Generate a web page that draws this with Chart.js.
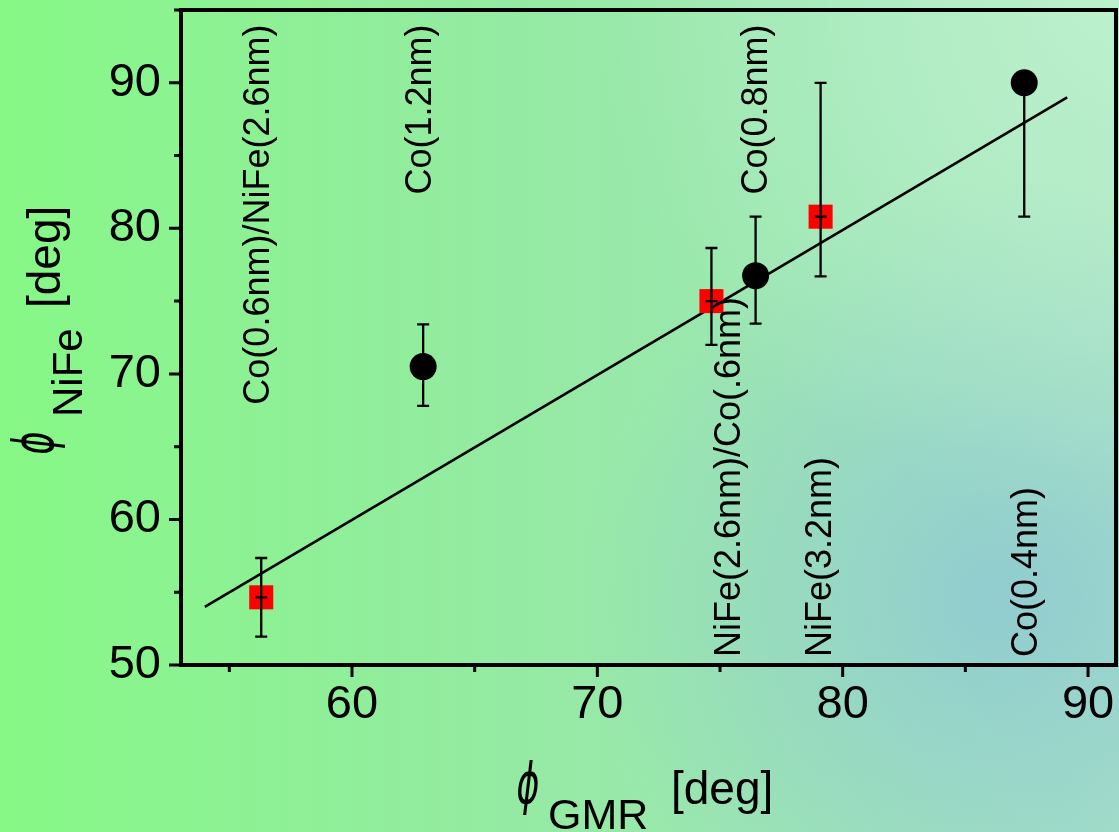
<!DOCTYPE html>
<html>
<head>
<meta charset="utf-8">
<script src="https://cdn.jsdelivr.net/npm/chart.js@4/dist/chart.umd.min.js"></script>
<style>
html,body{margin:0;padding:0;background:#8cf08c;}
#wrap{width:1119px;height:832px;}
</style>
</head>
<body>
<div id="wrap"><canvas id="c" width="1119" height="832"></canvas></div>
<script>
// ---- data ----
const coX = [62.9, 76.45, 87.4];
const coY = [70.5, 76.75, 90.0];
const coErrLow = [67.8, 73.45, 80.8];
const coErrHigh = [73.4, 80.8, 90.0];

const nifeX = [56.3, 74.65, 79.1];
const nifeY = [54.65, 75.0, 80.8];
const nifeErrLow = [51.95, 72.0, 76.7];
const nifeErrHigh = [57.35, 78.65, 90.0];

const fitX = [54.0, 89.15];
const fitY = [54.0, 89.0];

const labelTexts = ['Co(0.6nm)/NiFe(2.6nm)', 'Co(1.2nm)', 'Co(0.8nm)', 'NiFe(2.6nm)/Co(.6nm)', 'NiFe(3.2nm)', 'Co(0.4nm)'];
const labelX = [56.2, 62.8, 76.5, 75.4, 79.1, 87.5];
const labelY = [94.0, 94.0, 94.0, 50.55, 50.55, 50.55];
const labelAnchor = ['end', 'end', 'end', 'start', 'start', 'start'];

const xMin = 53.03, xMax = 91.14, yMin = 50, yMax = 95.0;
const tickStep = 5, labelEvery = 10;

const FONT = '"Liberation Sans", Arial, sans-serif';

const pts = (xs, ys) => xs.map((x, i) => ({x: x, y: ys[i]}));

const bgPlugin = {
  id: 'bg',
  beforeDraw(chart) {
    const c = chart.ctx, w = chart.width, h = chart.height;
    c.save();
    let g = c.createLinearGradient(0, 0, w, 0);
    g.addColorStop(0, 'rgb(134,248,134)');
    g.addColorStop(0.45, 'rgb(148,234,162)');
    g.addColorStop(1, 'rgb(168,228,196)');
    c.fillStyle = g; c.fillRect(0, 0, w, h);
    let r = c.createRadialGradient(1000, 600, 0, 1000, 600, 420);
    r.addColorStop(0, 'rgba(140,196,214,0.75)');
    r.addColorStop(1, 'rgba(140,196,214,0)');
    c.fillStyle = r; c.fillRect(0, 0, w, h);
    let r2 = c.createRadialGradient(1119, 0, 0, 1119, 0, 520);
    r2.addColorStop(0, 'rgba(190,242,205,0.9)');
    r2.addColorStop(1, 'rgba(190,242,205,0)');
    c.fillStyle = r2; c.fillRect(0, 0, w, h);
    c.restore();
  }
};

function errBars(c, sx, sy, xsArr, lo, hi, ys) {
  for (let i = 0; i < xsArr.length; i++) {
    const px = sx.getPixelForValue(xsArr[i]);
    const pl = sy.getPixelForValue(lo[i]);
    const ph = sy.getPixelForValue(hi[i]);
    const pc = sy.getPixelForValue(ys[i]);
    c.beginPath();
    c.moveTo(px, pl); c.lineTo(px, ph);
    c.moveTo(px - 6, pl); c.lineTo(px + 6, pl);
    if (hi[i] > ys[i]) { c.moveTo(px - 6, ph); c.lineTo(px + 6, ph); }
    c.moveTo(px - 6, pc); c.lineTo(px + 6, pc);
    c.stroke();
  }
}

const decoPlugin = {
  id: 'deco',
  afterDatasetsDraw(chart) {
    const c = chart.ctx, sx = chart.scales.x, sy = chart.scales.y, a = chart.chartArea;
    c.save();
    c.strokeStyle = '#000';
    c.lineWidth = 2.3;
    errBars(c, sx, sy, coX, coErrLow, coErrHigh, coY);
    errBars(c, sx, sy, nifeX, nifeErrLow, nifeErrHigh, nifeY);

    // frame
    c.lineWidth = 4;
    c.strokeRect(a.left, a.top, a.right - a.left, a.bottom - a.top);

    // ticks
    c.lineWidth = 3;
    c.beginPath();
    sx.ticks.forEach(t => {
      const p = sx.getPixelForValue(t.value);
      const len = (Math.abs(t.value % labelEvery) < 1e-6) ? 12 : 7;
      c.moveTo(p, a.bottom); c.lineTo(p, a.bottom + len);
    });
    sy.ticks.forEach(t => {
      const p = sy.getPixelForValue(t.value);
      const len = (Math.abs(t.value % labelEvery) < 1e-6) ? 12 : 7;
      c.moveTo(a.left, p); c.lineTo(a.left - len, p);
    });
    c.stroke();

    // annotations
    c.fillStyle = '#000';
    c.font = '36px ' + FONT;
    c.textBaseline = 'middle';
    labelTexts.forEach((txt, i) => {
      const px = sx.getPixelForValue(labelX[i]);
      const py = sy.getPixelForValue(labelY[i]);
      c.save();
      c.translate(px, py);
      c.rotate(-Math.PI / 2);
      c.textAlign = labelAnchor[i] === 'end' ? 'right' : 'left';
      c.fillText(txt, 0, 0);
      c.restore();
    });

    // x title
    c.textBaseline = 'alphabetic';
    c.textAlign = 'left';
    c.save();
    c.translate(528, 788);
    c.scale(0.62, 1);
    c.font = 'italic 200 56px "DejaVu Sans"';
    c.textAlign = 'center'; c.textBaseline = 'middle';
    c.fillText('\u03D5', 0, 0);
    c.restore();
    c.font = '43px ' + FONT;
    c.fillText('GMR', 548, 829);
    c.font = '46px ' + FONT;
    c.fillText('[deg]', 671, 804);

    // y title
    c.save();
    c.translate(38, 443);
    c.rotate(-Math.PI / 2);
    c.scale(0.62, 1);
    c.font = 'italic 200 56px "DejaVu Sans"';
    c.textAlign = 'center'; c.textBaseline = 'middle';
    c.fillText('\u03D5', 0, 0);
    c.restore();
    c.save();
    c.translate(82, 417);
    c.rotate(-Math.PI / 2);
    c.font = '42px ' + FONT;
    c.fillText('NiFe', 0, 0);
    c.restore();
    c.save();
    c.translate(60, 308);
    c.rotate(-Math.PI / 2);
    c.font = '46px ' + FONT;
    c.fillText('[deg]', 0, 0);
    c.restore();

    c.restore();
  }
};

const tickCb = v => (Math.abs(v % labelEvery) < 1e-6 ? String(v) : '');

new Chart(document.getElementById('c'), {
  type: 'scatter',
  data: {
    datasets: [
      {
        label: 'Co', data: pts(coX, coY), pointStyle: 'circle', pointRadius: 13.5,
        backgroundColor: '#000', borderColor: '#000', borderWidth: 0, order: 1
      },
      {
        label: 'NiFe', data: pts(nifeX, nifeY), pointStyle: 'rect', pointRadius: 17,
        backgroundColor: '#ff0000', borderColor: '#ff0000', borderWidth: 0, order: 1
      },
      {
        type: 'line', label: 'fit', data: pts(fitX, fitY), borderColor: '#000', borderWidth: 2.6,
        pointRadius: 0, fill: false, showLine: true, order: 5
      }
    ]
  },
  options: {
    responsive: false,
    animation: false,
    events: [],
    layout: {autoPadding: false, padding: {top: 10, right: 3, left: 0, bottom: 0}},
    plugins: {legend: {display: false}, tooltip: {enabled: false}},
    scales: {
      x: {
        type: 'linear', min: xMin, max: xMax,
        afterFit(s) { s.height = 167; s.paddingLeft = 0; s.paddingRight = 0; s.paddingTop = 0; s.paddingBottom = 0; },
        border: {display: false},
        grid: {display: true, drawOnChartArea: false, drawTicks: true, tickLength: 10, color: 'rgba(0,0,0,0)'},
        ticks: {stepSize: tickStep, includeBounds: false, autoSkip: false, maxRotation: 0,
          color: '#000', padding: 2, font: {size: 47, family: FONT}, callback: tickCb}
      },
      y: {
        type: 'linear', min: yMin, max: yMax,
        afterFit(s) { s.width = 181; s.paddingTop = 0; s.paddingBottom = 0; s.paddingLeft = 0; s.paddingRight = 0; },
        border: {display: false},
        grid: {display: true, drawOnChartArea: false, drawTicks: true, tickLength: 10, color: 'rgba(0,0,0,0)'},
        ticks: {stepSize: tickStep, includeBounds: false, autoSkip: false,
          color: '#000', padding: 10, font: {size: 47, family: FONT}, callback: tickCb}
      }
    }
  },
  plugins: [bgPlugin, decoPlugin]
});
</script>
</body>
</html>
